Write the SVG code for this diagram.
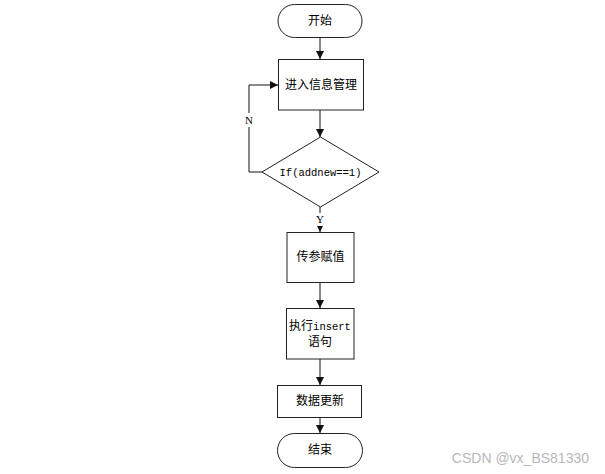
<svg xmlns="http://www.w3.org/2000/svg" width="605" height="474" viewBox="0 0 605 474">
<style>
.n{fill:#fff;stroke:#222;stroke-width:1}
.t{font-family:"Noto Sans CJK SC","Liberation Sans",sans-serif;font-size:12px;fill:#000;text-anchor:middle}
.m{font-family:"Liberation Mono","Noto Sans CJK SC",monospace;font-size:10.5px;fill:#000}
.c{fill:none;stroke:#111;stroke-width:1;marker-end:url(#a)}
.l{font-family:"Liberation Serif",serif;font-size:11px;fill:#000;text-anchor:middle}
</style>
<defs>
<marker id="a" viewBox="0 0 10 10" refX="10" refY="5" markerWidth="8" markerHeight="8" markerUnits="userSpaceOnUse" orient="auto">
<path d="M0,0 L10,5 L0,10 z" fill="#111"/>
</marker>
</defs>
<rect width="605" height="474" fill="#fff"/>
<g id="connectors">
<line class="c" x1="320" y1="38" x2="320" y2="59"/>
<line class="c" x1="320" y1="110" x2="320" y2="137"/>
<line class="c" x1="320" y1="207" x2="320" y2="232"/>
<path class="c" d="M262,172 H249 V85 H278"/>
<line class="c" x1="320" y1="283" x2="320" y2="308"/>
<line class="c" x1="320" y1="359" x2="320" y2="385"/>
<line class="c" x1="320" y1="417" x2="320" y2="433"/>
<rect x="244" y="113" width="10" height="14" fill="#fff"/>
<text class="l" x="249" y="124">N</text>
<rect x="315" y="213" width="10" height="13" fill="#fff"/>
<text class="l" x="320" y="223">Y</text>
</g>
<g id="start">
<rect class="n" x="278" y="4.5" width="84" height="33" rx="16.5"/>
<text class="t" x="320" y="25">开始</text>
</g>
<g id="info">
<rect class="n" x="278.5" y="59.5" width="85" height="50.5"/>
<text class="t" x="321" y="89">进入信息管理</text>
</g>
<g id="cond">
<polygon class="n" points="320.5,137 379,172 320.5,207 262,172"/>
<text class="m" x="320.5" y="176" text-anchor="middle">If(addnew==1)</text>
</g>
<g id="param">
<rect class="n" x="287" y="232.5" width="67" height="50"/>
<text class="t" x="320.5" y="261">传参赋值</text>
</g>
<g id="insert">
<rect class="n" x="286.5" y="308.5" width="67.5" height="50.5"/>
<text class="t" x="320" y="330">执行<tspan class="m">insert</tspan></text>
<text class="t" x="320" y="346">语句</text>
</g>
<g id="update">
<rect class="n" x="277.5" y="385.5" width="84" height="32"/>
<text class="t" x="320" y="405">数据更新</text>
</g>
<g id="end">
<rect class="n" x="277.5" y="433.5" width="85" height="34" rx="17"/>
<text class="t" x="320" y="454">结束</text>
</g>
<text x="589" y="463" font-family="Liberation Sans,sans-serif" font-size="14" fill="#b8b8b8" text-anchor="end">CSDN @vx_BS81330</text>
</svg>
